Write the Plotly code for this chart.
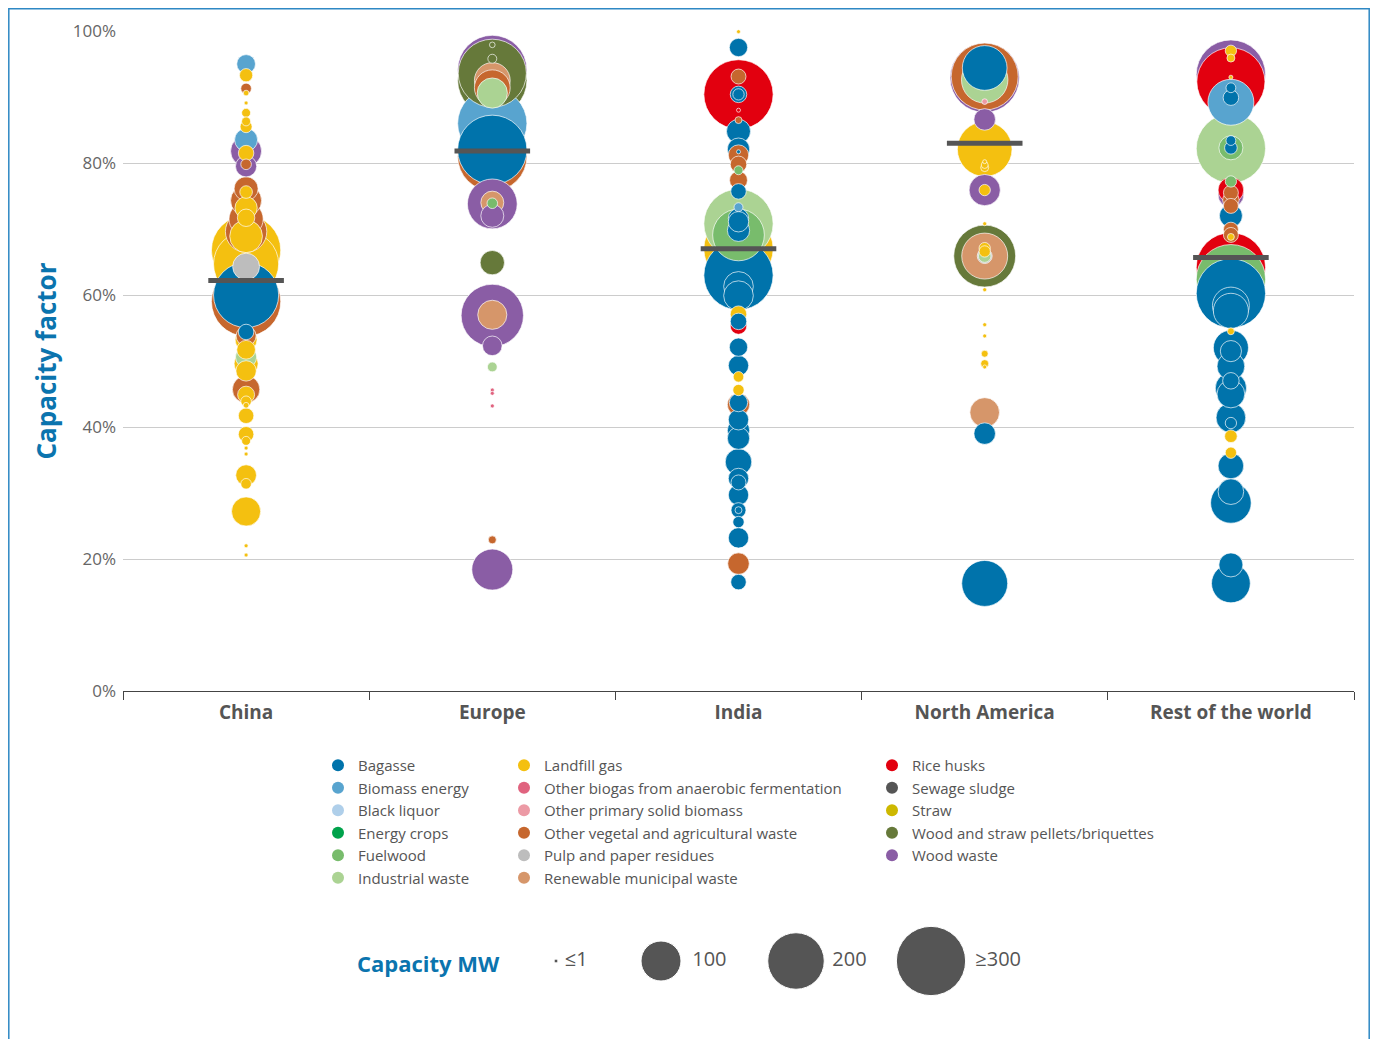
import plotly.graph_objects as go
import pandas as pd

regions = ['China', 'Europe', 'India', 'North America', 'Rest of the world']

# feedstock codes -> legend name / colour
type_names = {
    'BAG': 'Bagasse', 'BIO': 'Biomass energy', 'BLK': 'Black liquor',
    'ENC': 'Energy crops', 'FUW': 'Fuelwood', 'IND': 'Industrial waste',
    'LFG': 'Landfill gas', 'OBG': 'Other biogas from anaerobic fermentation',
    'OPS': 'Other primary solid biomass', 'OVA': 'Other vegetal and agricultural waste',
    'PPR': 'Pulp and paper residues', 'RMW': 'Renewable municipal waste',
    'RIC': 'Rice husks', 'SEW': 'Sewage sludge', 'STR': 'Straw',
    'WSP': 'Wood and straw pellets/briquettes', 'WWA': 'Wood waste',
}
type_colors = {
    'BAG': '#0073AB', 'BIO': '#58A4CF', 'BLK': '#AFCFEA', 'ENC': '#00A24B',
    'FUW': '#78BC6C', 'IND': '#ABD393', 'LFG': '#F4C010', 'OBG': '#E0637F',
    'OPS': '#EC9AA5', 'OVA': '#C6672E', 'PPR': '#BDBDBD', 'RMW': '#D6966A',
    'RIC': '#E2000F', 'SEW': '#555555', 'STR': '#CDB800', 'WSP': '#66793A',
    'WWA': '#8A5DA5',
}
legend_cols = [
    ['BAG', 'BIO', 'BLK', 'ENC', 'FUW', 'IND'],
    ['LFG', 'OBG', 'OPS', 'OVA', 'PPR', 'RMW'],
    ['RIC', 'SEW', 'STR', 'WSP', 'WWA'],
]

# plants per region: feedstock, capacity factor (%), capacity (MW)
china_type = ['BIO', 'LFG', 'OVA', 'LFG', 'LFG', 'LFG', 'LFG', 'LFG', 'BIO', 'WWA',
              'LFG', 'WWA', 'OVA', 'OVA', 'LFG', 'OVA', 'LFG', 'OVA', 'LFG', 'OVA',
              'LFG', 'OVA', 'LFG', 'LFG', 'PPR', 'BAG', 'OVA', 'BAG', 'LFG', 'LFG',
              'IND', 'LFG', 'LFG', 'OVA', 'LFG', 'LFG', 'LFG', 'LFG', 'LFG', 'LFG',
              'LFG', 'LFG', 'LFG', 'LFG', 'LFG', 'LFG', 'LFG']
china_cf = [95.0, 93.3, 91.3, 90.6, 89.1, 87.6, 86.3, 85.5, 83.5, 81.8,
            81.5, 79.5, 79.8, 76.1, 75.6, 74.3, 73.2, 71.5, 71.7, 69.6,
            68.9, 59.0, 66.8, 64.7, 64.3, 60.0, 53.8, 54.4, 53.2, 51.7,
            50.6, 49.6, 48.5, 45.7, 44.9, 43.9, 43.3, 41.7, 38.9, 37.9,
            36.8, 35.9, 32.7, 31.4, 27.2, 22.0, 20.6]
china_mw = [22, 11, 7, 2, 1, 5, 5, 9, 33, 60,
            15, 28, 7, 36, 10, 60, 31, 73, 19, 107,
            67, 300, 300, 265, 45, 265, 25, 15, 30, 22,
            28, 36, 26, 47, 18, 7, 2, 15, 15, 5,
            1, 1, 27, 7, 53, 1, 1]

eu_type = ['WWA', 'WSP', 'WSP', 'WSP', 'WSP', 'RMW', 'OVA', 'IND', 'OVA', 'BIO',
           'BAG', 'WWA', 'RMW', 'FUW', 'WWA', 'WSP', 'WWA', 'RMW', 'WWA', 'IND',
           'OBG', 'OBG', 'OBG', 'OVA', 'WWA']
eu_cf = [94.1, 97.9, 95.8, 92.5, 93.6, 92.5, 91.4, 90.6, 81.0, 86.0,
         82.0, 73.8, 74.0, 73.9, 72.0, 64.9, 56.9, 57.0, 52.3, 49.1,
         45.6, 45.1, 43.2, 22.9, 18.4]
eu_mw = [300, 2, 5, 300, 290, 80, 80, 57, 300, 300,
         300, 155, 33, 7, 33, 37, 243, 53, 24, 6,
         1, 1, 1, 4, 105]

in_type = ['LFG', 'BAG', 'RIC', 'OVA', 'BAG', 'BAG', 'RIC', 'OVA', 'BAG', 'BAG',
           'BAG', 'OVA', 'OVA', 'FUW', 'OVA', 'BAG', 'LFG', 'IND', 'FUW', 'BIO',
           'BAG', 'BAG', 'BAG', 'BAG', 'BAG', 'BAG', 'LFG', 'RIC', 'BAG', 'BAG',
           'BAG', 'LFG', 'LFG', 'OVA', 'BAG', 'BAG', 'BAG', 'BAG', 'BAG', 'BAG',
           'BAG', 'BAG', 'BAG', 'BAG', 'BAG', 'BAG', 'OVA', 'BAG']
in_cf = [99.9, 97.5, 90.4, 93.1, 90.4, 90.4, 88.0, 86.5, 84.8, 82.1,
         81.7, 81.2, 79.8, 78.9, 77.4, 75.7, 67.0, 70.8, 69.1, 73.3,
         71.6, 71.1, 69.8, 63.0, 61.3, 59.9, 57.1, 55.3, 56.0, 52.1,
         49.3, 47.6, 45.6, 43.4, 43.7, 41.1, 39.5, 38.3, 34.7, 32.2,
         31.6, 29.7, 27.4, 27.4, 25.6, 23.2, 19.3, 16.5]
in_mw = [1, 21, 300, 14, 17, 8, 1, 3, 36, 31,
         1, 26, 17, 5, 20, 15, 300, 300, 167, 5,
         26, 26, 31, 300, 55, 55, 17, 17, 17, 21,
         26, 7, 8, 31, 21, 26, 31, 31, 44, 26,
         14, 26, 14, 3, 8, 26, 29, 15]

na_type = ['WWA', 'OVA', 'IND', 'BAG', 'OPS', 'WWA', 'LFG', 'LFG', 'LFG', 'LFG',
           'WWA', 'LFG', 'LFG', 'WSP', 'RMW', 'LFG', 'LFG', 'PPR', 'IND', 'LFG',
           'LFG', 'LFG', 'LFG', 'LFG', 'LFG', 'RMW', 'BAG', 'BAG']
na_cf = [92.9, 93.1, 92.6, 94.4, 89.3, 86.6, 82.1, 80.2, 79.7, 79.3,
         75.9, 75.9, 70.8, 65.9, 65.9, 67.1, 66.6, 65.9, 65.9, 60.8,
         55.5, 53.8, 51.1, 49.6, 49.1, 42.2, 39.0, 16.3]
na_mw = [300, 280, 135, 125, 2, 29, 187, 1, 3, 4,
         61, 8, 1, 240, 132, 8, 8, 14, 10, 1,
         1, 1, 3, 4, 1, 55, 29, 132]

row_type = ['WWA', 'RIC', 'LFG', 'LFG', 'LFG', 'BIO', 'BAG', 'BAG', 'IND', 'FUW',
            'BAG', 'BAG', 'FUW', 'WWA', 'RIC', 'OVA', 'OVA', 'OVA', 'BAG', 'OVA',
            'OVA', 'LFG', 'RIC', 'FUW', 'BAG', 'BAG', 'BAG', 'LFG', 'BAG', 'BAG',
            'BAG', 'BAG', 'BAG', 'BAG', 'BAG', 'BAG', 'LFG', 'LFG', 'BAG', 'BAG',
            'BAG', 'BAG', 'BAG']
row_cf = [93.4, 92.3, 97.0, 95.9, 93.0, 89.2, 91.4, 89.9, 82.2, 82.3,
          83.4, 82.3, 77.2, 75.2, 75.9, 75.5, 74.4, 73.5, 72.0, 69.9,
          69.1, 68.8, 64.2, 62.4, 60.25, 58.4, 57.6, 54.5, 52.0, 51.5,
          49.2, 47.0, 45.9, 45.0, 41.4, 40.6, 38.6, 36.1, 34.1, 30.2,
          28.5, 19.1, 16.3]
row_mw = [300, 290, 8, 4, 1, 132, 6, 15, 300, 36,
          6, 10, 8, 41, 41, 14, 17, 14, 33, 14,
          14, 3, 300, 300, 300, 85, 77, 3, 77, 28,
          48, 17, 61, 48, 55, 8, 10, 8, 41, 41,
          103, 36, 94]

region_means = [62.2, 81.8, 67.0, 83.0, 65.7]

# size key
key_mw = [1, 100, 200, 300]
key_labels = [' ≤1', ' 100', '200', '≥300']
key_x = [556, 661, 796, 931]

y_ticks = [0, 20, 40, 60, 80, 100]

BLUE = '#0B74AE'
GREY_TXT = '#555555'
FONT = 'Open Sans'

frames = []
for reg, t, cf, mw in [
    ('China', china_type, china_cf, china_mw),
    ('Europe', eu_type, eu_cf, eu_mw),
    ('India', in_type, in_cf, in_mw),
    ('North America', na_type, na_cf, na_mw),
    ('Rest of the world', row_type, row_cf, row_mw),
]:
    assert len(t) == len(cf) == len(mw), reg
    frames.append(pd.DataFrame({'region': reg, 'type': t, 'cf': cf, 'mw': mw}))
df = pd.concat(frames, ignore_index=True)
# largest bubbles underneath
df = df.sort_values('mw', ascending=False, kind='stable')

SIZEREF = 0.125  # diameter = 4*sqrt(MW)

fig = go.Figure()

fig.add_trace(go.Scatter(
    x=df['region'], y=df['cf'],
    mode='markers',
    marker=dict(
        size=df['mw'].clip(upper=300),
        sizemode='area', sizeref=SIZEREF,
        color=[type_colors[t] for t in df['type']],
        line=dict(color='rgba(255,255,255,0.85)', width=0.8),
        opacity=1,
    ),
    cliponaxis=False,
    showlegend=False,
    hovertemplate='%{x}<br>%{y:.1f}%<extra></extra>',
))

# regional averages (line-ew symbol is 1.4x its size long)
fig.add_trace(go.Scatter(
    x=regions, y=region_means,
    mode='markers',
    marker=dict(symbol='line-ew', size=54,
                line=dict(color='#555555', width=5)),
    cliponaxis=False,
    showlegend=False,
    hoverinfo='skip',
))

# legend entries
legend_ids = ['legend', 'legend2', 'legend3']
for col, lid in zip(legend_cols, legend_ids):
    for code in col:
        fig.add_trace(go.Scatter(
            x=[None], y=[None], mode='markers',
            marker=dict(size=12, color=type_colors[code]),
            name=type_names[code], legend=lid, showlegend=True,
        ))

# size key
fig.add_trace(go.Scatter(
    x=key_x, y=[0] * len(key_x),
    xaxis='x2', yaxis='y2',
    mode='markers+text',
    marker=dict(size=key_mw, sizemode='area', sizeref=SIZEREF,
                color='#555555', opacity=1),
    text=key_labels, textposition='middle right',
    textfont=dict(size=20, color=GREY_TXT, family=FONT),
    cliponaxis=False,
    showlegend=False,
    hoverinfo='skip',
))

# page body adds an 8px margin: figure starts at (8, 8) of the window
OFF = 8
W, H = 1378 - 2 * OFF, 1047 - 2 * OFF
PL, PR, PT, PB = 123, 1354, 31, 1007   # plot frame in window pixels
ML, MR, MT, MB = PL - OFF, W - (PR - OFF), PT - OFF, H - (PB - OFF)
PW = PR - PL
PH = PB - PT


def px_x(p):
    return (p - PL) / PW


def px_y(p):
    return (PB - p) / PH


legend_common = dict(
    xanchor='left', yanchor='top',
    font=dict(size=15, color=GREY_TXT, family=FONT),
    bgcolor='rgba(0,0,0,0)', tracegroupgap=0,
)

fig.update_layout(
    width=W, height=H,
    margin=dict(l=ML, r=MR, t=MT, b=MB),
    paper_bgcolor='white', plot_bgcolor='white',
    font=dict(family=FONT, color=GREY_TXT),
    xaxis=dict(
        type='category', categoryorder='array', categoryarray=regions,
        range=[-0.5, 4.5],
        tickson='boundaries', ticks='outside', ticklen=8,
        tickcolor='#444444', tickwidth=1.2,
        showline=True, linecolor='#444444', linewidth=1.2,
        showgrid=False, zeroline=False,
        ticklabelstandoff=4,
        tickfont=dict(size=19, color=GREY_TXT, family=FONT, weight='bold'),
        anchor='y',
    ),
    yaxis=dict(
        domain=[px_y(691), 1],
        range=[0, 100],
        tickvals=y_ticks,
        ticktext=[f'{v}%' for v in y_ticks],
        ticklabelstandoff=6,
        tickfont=dict(size=17, color='#666666', family=FONT),
        showgrid=True, gridcolor='#CCCCCC', gridwidth=1,
        zeroline=False, showline=False,
        title=dict(text='Capacity factor', standoff=8,
                   font=dict(size=26, color=BLUE, family=FONT, weight='bold')),
    ),
    xaxis2=dict(domain=[0, 1], range=[PL, PR], visible=False, anchor='y2'),
    yaxis2=dict(domain=[0, 2 * px_y(961)], range=[-1, 1], visible=False,
                anchor='x2'),
    legend=dict(x=px_x(318), y=px_y(749), **legend_common),
    legend2=dict(x=px_x(504), y=px_y(749), **legend_common),
    legend3=dict(x=px_x(872), y=px_y(749), **legend_common),
    annotations=[dict(
        text='Capacity MW', xref='paper', yref='paper',
        x=px_x(355), y=px_y(963), xanchor='left', yanchor='middle',
        showarrow=False,
        font=dict(size=22, color=BLUE, family=FONT, weight='bold'),
    )],
    shapes=[dict(
        type='rect', xref='paper', yref='paper',
        x0=px_x(8.8), x1=px_x(1369.2), y0=px_y(1080), y1=px_y(8.8),
        line=dict(color='#2E88C4', width=1.5),
    )],
)

fig.write_html('out.html')
